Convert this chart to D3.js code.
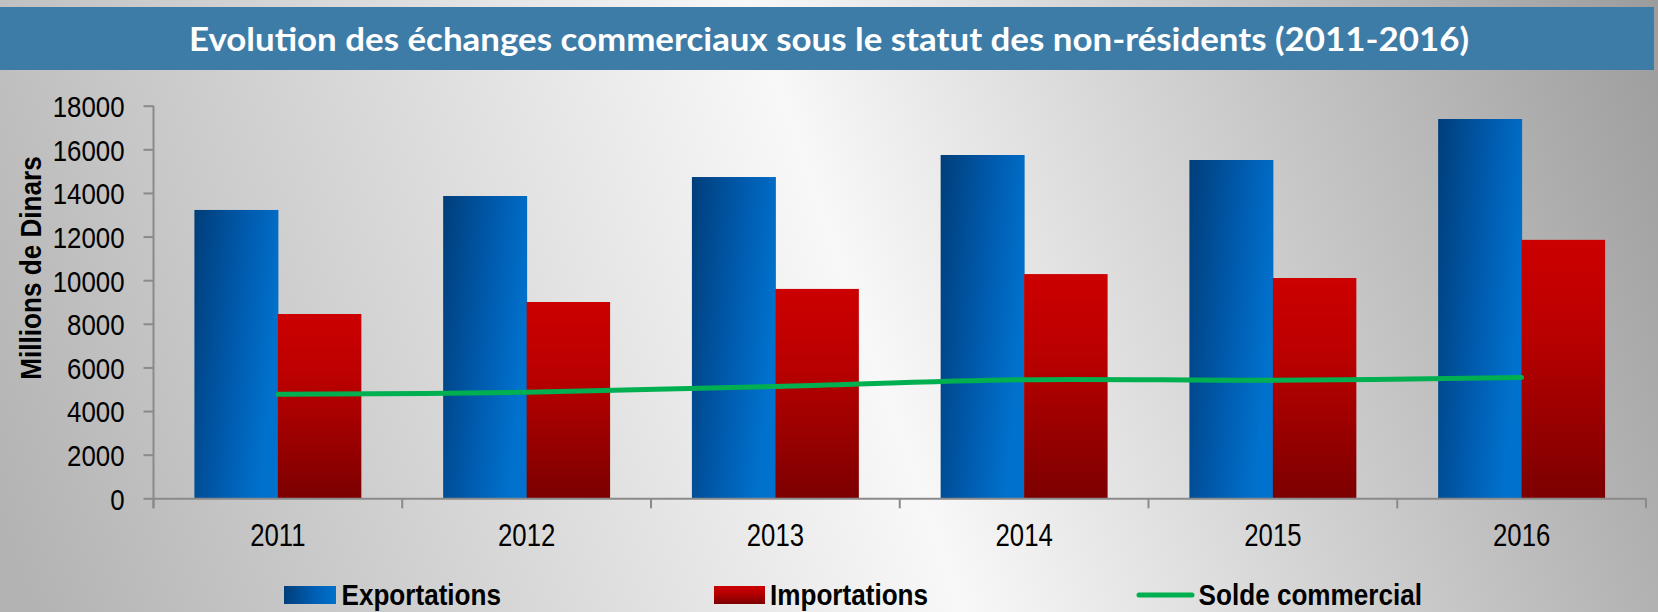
<!DOCTYPE html>
<html>
<head>
<meta charset="utf-8">
<script src="https://cdn.jsdelivr.net/npm/d3@7"></script>
<style>
  html, body { margin: 0; padding: 0; overflow: hidden; background: #fff; }
  svg { display: block; }
</style>
</head>
<body>
<svg id="chart" width="1658" height="612"></svg>
<script>
// ---- data ----
const years = ["2011", "2012", "2013", "2014", "2015", "2016"];
const exportations = [13220, 13860, 14730, 15740, 15510, 17390];
const importations = [8450, 9000, 9600, 10280, 10100, 11850];
const solde = [4770, 4860, 5130, 5440, 5410, 5540];
const yTicks = [0, 2000, 4000, 6000, 8000, 10000, 12000, 14000, 16000, 18000];
const seriesNames = ["Exportations", "Importations", "Solde commercial"];
const titleText = "Evolution des échanges commerciaux sous le statut des non-résidents (2011-2016)";
const yTitle = "Millions de Dinars";

// ---- setup ----
const W = 1658, H = 612;
const svg = d3.select("#chart");
const defs = svg.append("defs");
const NARROW = 0.86;
const font = "'Liberation Sans', Arial, sans-serif";

function narrow(sel, k) {
  sel.each(function () {
    const len = this.getComputedTextLength();
    d3.select(this).attr("textLength", len * (k || NARROW)).attr("lengthAdjust", "spacingAndGlyphs");
  });
}

// background gradient
const bg = defs.append("linearGradient").attr("id", "bg")
  .attr("gradientUnits", "userSpaceOnUse")
  .attr("x1", 0).attr("y1", 520).attr("x2", W).attr("y2", -60);
bg.append("stop").attr("offset", 0).attr("stop-color", "#b3b3b3");
bg.append("stop").attr("offset", 0.5).attr("stop-color", "#f8f8f8");
bg.append("stop").attr("offset", 1).attr("stop-color", "#9a9a9a");
svg.append("rect").attr("width", W).attr("height", H).attr("fill", "url(#bg)");

// bar gradients
const gBlue = defs.append("linearGradient").attr("id", "gBlue")
  .attr("x1", 0).attr("y1", 0).attr("x2", 1).attr("y2", 0.35);
gBlue.append("stop").attr("offset", 0).attr("stop-color", "#003e7a");
gBlue.append("stop").attr("offset", 0.6).attr("stop-color", "#005cb0");
gBlue.append("stop").attr("offset", 1).attr("stop-color", "#0071cc");

const gRed = defs.append("linearGradient").attr("id", "gRed")
  .attr("x1", 0).attr("y1", 0).attr("x2", 0).attr("y2", 1);
gRed.append("stop").attr("offset", 0).attr("stop-color", "#cc0000");
gRed.append("stop").attr("offset", 0.35).attr("stop-color", "#bb0000");
gRed.append("stop").attr("offset", 1).attr("stop-color", "#7c0000");

// title bar
svg.append("rect").attr("x", 0).attr("y", 7).attr("width", 1654).attr("height", 63)
  .attr("fill", "#3e7ca8");
svg.append("text").attr("x", 829).attr("y", 51)
  .attr("text-anchor", "middle")
  .attr("font-family", "Lato, 'Open Sans', sans-serif")
  .attr("font-weight", 700)
  .attr("font-size", 32)
  .attr("fill", "#ffffff")
  .attr("textLength", 1280).attr("lengthAdjust", "spacingAndGlyphs")
  .text(titleText);

// scales
const x = d3.scaleBand().domain(years).range([153.5, 1646]).paddingInner(0).paddingOuter(0);
const x1 = d3.scaleBand().domain(["exp", "imp"]).range([0, x.bandwidth()]).paddingInner(0).paddingOuter(0.49);
const y = d3.scaleLinear().domain([0, 18000]).range([498.3, 105.7]);

// bars
const bars = svg.append("g");
bars.selectAll("rect.exp").data(years).join("rect")
  .attr("x", (d) => x(d) + x1("exp"))
  .attr("y", (d, i) => y(exportations[i]))
  .attr("width", x1.bandwidth() + 0.5)
  .attr("height", (d, i) => y(0) - y(exportations[i]))
  .attr("fill", "url(#gBlue)");
bars.selectAll("rect.imp").data(years).join("rect")
  .attr("x", (d) => x(d) + x1("imp"))
  .attr("y", (d, i) => y(importations[i]))
  .attr("width", x1.bandwidth())
  .attr("height", (d, i) => y(0) - y(importations[i]))
  .attr("fill", "url(#gRed)");

// line
const line = d3.line()
  .x((d, i) => x(years[i]) + x.bandwidth() / 2)
  .y((d) => y(d))
  .curve(d3.curveCatmullRom.alpha(0.5));
svg.append("path").datum(solde)
  .attr("d", line)
  .attr("fill", "none")
  .attr("stroke", "#00b050")
  .attr("stroke-width", 5)
  .attr("stroke-linecap", "round");

// y axis
const axisColor = "#8a8a8a";
const yAxis = svg.append("g").attr("transform", `translate(${153.5},0)`)
  .call(d3.axisLeft(y).tickValues(yTicks).tickSize(10).tickPadding(19).tickFormat(d3.format("d")));
yAxis.select(".domain").attr("stroke", axisColor).attr("stroke-width", 2)
  .attr("d", `M0,${y(18000)}V${y(0) + 10}`);
yAxis.selectAll(".tick line").attr("stroke", axisColor).attr("stroke-width", 2);
yAxis.selectAll(".tick text").attr("font-family", font).attr("font-size", 30).attr("fill", "#000")
  .attr("dy", "0.36em").call(narrow);

// x axis
const xAxis = svg.append("g").attr("transform", `translate(0,${y(0)})`)
  .call(d3.axisBottom(x).tickSize(0).tickPadding(26));
xAxis.select(".domain").attr("stroke", axisColor).attr("stroke-width", 2);
xAxis.selectAll(".tick text").attr("font-family", font).attr("font-size", 31).attr("fill", "#000")
  .call(narrow, 0.83);
const boundaries = years.map((d) => x(d)).concat([x.range()[1]]);
xAxis.selectAll("line.bt").data(boundaries).join("line")
  .attr("x1", (d) => d).attr("x2", (d) => d)
  .attr("y1", 0).attr("y2", 10)
  .attr("stroke", axisColor).attr("stroke-width", 2);

// y title
svg.append("text")
  .attr("transform", "translate(41,268) rotate(-90)")
  .attr("text-anchor", "middle")
  .attr("font-family", font).attr("font-weight", 700).attr("font-size", 30).attr("fill", "#000")
  .text(yTitle)
  .call(narrow, 0.87);

// legend
const gBlueL = defs.append("linearGradient").attr("id", "gBlueL")
  .attr("x1", 0).attr("y1", 0).attr("x2", 1).attr("y2", 0);
gBlueL.append("stop").attr("offset", 0).attr("stop-color", "#003e7a");
gBlueL.append("stop").attr("offset", 0.6).attr("stop-color", "#005fb5");
gBlueL.append("stop").attr("offset", 1).attr("stop-color", "#0072cc");

const leg = svg.append("g");
leg.append("rect").attr("x", 284).attr("y", 586).attr("width", 52).attr("height", 18).attr("fill", "url(#gBlueL)");
leg.append("rect").attr("x", 714).attr("y", 586).attr("width", 51).attr("height", 18).attr("fill", "url(#gRed)");
leg.append("line").attr("x1", 1139).attr("x2", 1192).attr("y1", 595).attr("y2", 595)
  .attr("stroke", "#00b050").attr("stroke-width", 5).attr("stroke-linecap", "round");
const legX = [341.5, 770, 1198.6];
leg.selectAll("text").data(seriesNames).join("text")
  .attr("x", (d, i) => legX[i]).attr("y", 605)
  .attr("font-family", font).attr("font-weight", 700).attr("font-size", 30).attr("fill", "#000")
  .text((d) => d)
  .call(narrow, 0.87);
</script>
</body>
</html>
